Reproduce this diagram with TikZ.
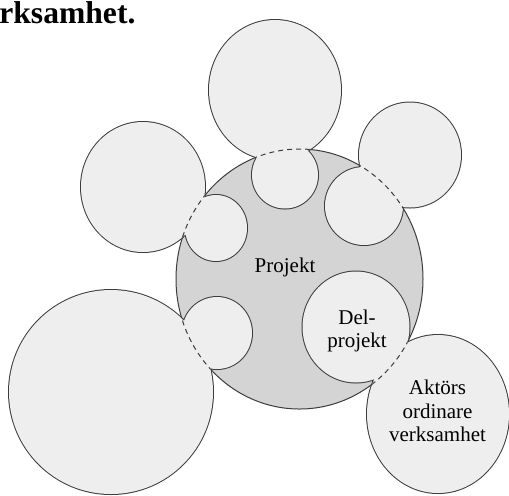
\documentclass[tikz,border=0pt]{standalone}
\usepackage{fontspec}
\setmainfont{Liberation Serif}
\definecolor{projgrey}{RGB}{212, 212, 212}
\definecolor{discgrey}{RGB}{238, 238, 238}
\definecolor{rimgrey}{RGB}{60, 60, 60}
\usetikzlibrary{positioning}

% all light discs: outer actors and the parts inside the project
\newcommand{\actordiscs}{
  (275,90) ellipse [x radius=66, y radius=70]
  (285,175) ellipse [x radius=33, y radius=33.5]
  (410,155) ellipse [x radius=51, y radius=52.5]
  (364,206) ellipse [x radius=39, y radius=39]
  (143,187) ellipse [x radius=62, y radius=65]
  (216,228) ellipse [x radius=31, y radius=33]
  (111,392) ellipse [x radius=102, y radius=102]
  (217,333) ellipse [x radius=35, y radius=36]
  (356,327) ellipse [x radius=53.5, y radius=55.5]
  (438,414) ellipse [x radius=71, y radius=79]
}

\begin{document}
\begin{tikzpicture}[x=0.5pt, y=-0.5pt,
    rim/.style={draw=rimgrey, line width=1pt},
    disctext/.style={font=\rmfamily\fontsize{10.5}{11.8}\selectfont, align=center, inner sep=0pt}]
  \useasboundingbox (0,0) rectangle (509,495);

  % Title fragment
  \node[font=\rmfamily\fontsize{15.8}{18}\selectfont\bfseries, anchor=base west, inner sep=0pt] (title) at (-1,23.5) {rksamhet.};

  % Project
  \coordinate (projc) at (299.5,279);
  \fill[projgrey] (projc) ellipse [x radius=123.5, y radius=130];
  \draw[rimgrey, line width=0.5pt] (projc) ellipse [x radius=123.5, y radius=130];

  % Discs: outline first, then fill to hide inner edges
  \draw[rim] \actordiscs;
  \fill[discgrey] \actordiscs;

  % Project border where covered
  \begin{scope}
    \clip \actordiscs;
    \draw[rimgrey, line width=0.5pt, dash pattern=on 2.5pt off 2pt] (projc) ellipse [x radius=123.5, y radius=130];
  \end{scope}

  % Labels
  \node[disctext, anchor=base] (projekt) at (285,272) {Projekt};
  \node[disctext] (delprojekt) at (357,331) {Del-\\projekt};
  \node[disctext] (aktor) at (437.5,411) {Aktörs\\ordinare\\verksamhet};
\end{tikzpicture}
\end{document}
